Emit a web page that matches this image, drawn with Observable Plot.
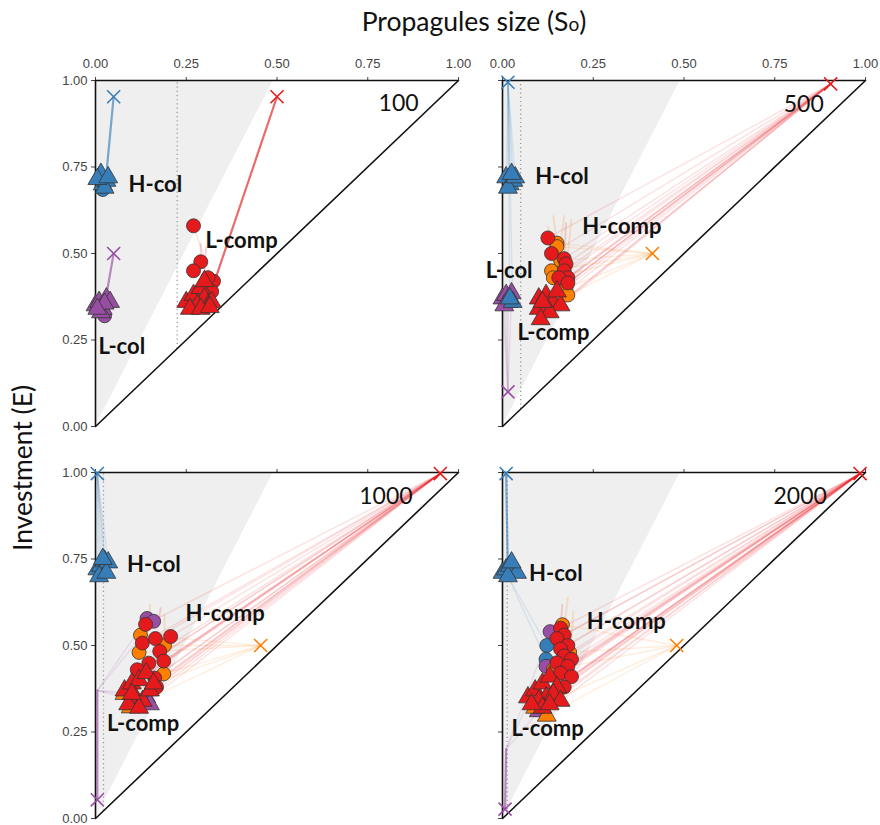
<!DOCTYPE html>
<html>
<head>
<meta charset="utf-8">
<script src="https://cdn.jsdelivr.net/npm/d3@7"></script>
<script src="https://cdn.jsdelivr.net/npm/@observablehq/plot@0.6"></script>
<style>
  body { margin: 0; background: #fff; }
  #wrap { position: relative; width: 880px; height: 825px; overflow: hidden; font-family: Lato, "Open Sans", sans-serif; }
  .panel { position: absolute; }
  #title { position: absolute; top: 5px; left: 474px; transform: translateX(-50%); font-size: 26.5px; color: #111; white-space: nowrap; }
  #ylab { position: absolute; left: 22px; top: 468px; transform: translate(-50%, -50%) rotate(-90deg); font-size: 26.5px; color: #111; white-space: nowrap; }
</style>
</head>
<body>
<div id="wrap">
  <div id="title">Propagules size (S<span style="font-size:0.72em">o</span>)</div>
  <div id="ylab">Investment (E)</div>
</div>
<script>
// ---------- data ----------
const seriesNames = ["A", "B", "C", "D"];            // blue, purple, red, orange starts
const seriesColors = ["#377eb8", "#984ea3", "#e41a1c", "#ff7f00"];
const tickValues = [0, 0.25, 0.5, 0.75, 1];
const shadeS = [0, 0.49];
const shadeE = [0, 1];
const panelNames = ["100", "500", "1000", "2000"];
const panelNameS = [0.835, 0.83, 0.80, 0.82];
const panelNameE = [0.933, 0.93, 0.93, 0.93];
const thresholds = [0.225, 0.05, 0.022, 0.013];

// starting points [series, S, E]
const starts100 = [["A", 0.05, 0.953], ["B", 0.05, 0.50], ["C", 0.50, 0.953]];
const starts500 = [["A", 0.015, 0.995], ["B", 0.015, 0.10], ["D", 0.413, 0.50], ["C", 0.904, 0.99]];
const starts1000 = [["A", 0.005, 0.997], ["B", 0.005, 0.054], ["D", 0.455, 0.50], ["C", 0.95, 0.997]];
const starts2000 = [["A", 0.01, 0.997], ["B", 0.007, 0.027], ["D", 0.48, 0.50], ["C", 0.985, 0.997]];

// intermediate waypoints [series, S, E]
const via100 = [["A", 0.03, 0.73], ["B", 0.03, 0.38], ["C", 0.325, 0.41]];
const via500 = [];
const via1000 = [["B", 0.005, 0.37]];
const via2000 = [["A", 0.015, 0.70], ["B", 0.01, 0.20]];

// overshooting trajectory spikes [series, S1, E1, S2, E2]
const spikes100 = [["C", 0.29, 0.47, 0.29, 0.53], ["C", 0.30, 0.45, 0.305, 0.52]];
const spikes500 = [["D", 0.15, 0.52, 0.14, 0.61], ["D", 0.16, 0.53, 0.17, 0.61], ["D", 0.18, 0.50, 0.19, 0.60], ["C", 0.17, 0.48, 0.175, 0.59], ["D", 0.14, 0.50, 0.125, 0.58]];
const spikes1000 = [["D", 0.15, 0.56, 0.15, 0.62], ["C", 0.17, 0.55, 0.18, 0.61], ["D", 0.19, 0.52, 0.19, 0.59]];
const spikes2000 = [["D", 0.17, 0.55, 0.18, 0.64], ["C", 0.16, 0.55, 0.165, 0.62], ["D", 0.19, 0.52, 0.195, 0.60]];

// end points: circles [series, S, E]
const circles100 = [
  ["A", 0.02, 0.685], ["B", 0.025, 0.32], ["B", 0.01, 0.34],
  ["C", 0.27, 0.58], ["C", 0.29, 0.476], ["C", 0.27, 0.45], ["C", 0.325, 0.42], ["C", 0.31, 0.43], ["C", 0.32, 0.39]
];
const triangles100 = [
  ["A", 0.01, 0.72], ["A", 0.02, 0.70], ["A", 0.03, 0.71], ["A", 0.015, 0.73], ["A", 0.025, 0.69], ["A", 0.005, 0.715], ["A", 0.035, 0.72],
  ["B", 0.0, 0.35], ["B", 0.01, 0.36], ["B", 0.02, 0.34], ["B", 0.03, 0.37], ["B", 0.04, 0.36], ["B", 0.015, 0.33], ["B", 0.025, 0.355], ["B", 0.005, 0.34],
  ["C", 0.25, 0.36], ["C", 0.27, 0.38], ["C", 0.29, 0.40], ["C", 0.30, 0.37], ["C", 0.31, 0.35], ["C", 0.28, 0.35], ["C", 0.32, 0.36], ["C", 0.26, 0.34], ["C", 0.29, 0.34], ["C", 0.30, 0.42], ["C", 0.315, 0.345]
];
const circles500 = [
  ["D", 0.15, 0.53], ["D", 0.15, 0.52], ["D", 0.135, 0.45], ["D", 0.14, 0.43], ["D", 0.175, 0.40], ["D", 0.18, 0.38], ["D", 0.16, 0.48],
  ["C", 0.125, 0.545], ["C", 0.135, 0.50], ["C", 0.17, 0.485], ["C", 0.175, 0.47], ["C", 0.17, 0.45], ["C", 0.18, 0.43], ["C", 0.155, 0.43], ["C", 0.18, 0.415]
];
const triangles500 = [
  ["A", 0.01, 0.72], ["A", 0.02, 0.70], ["A", 0.03, 0.71], ["A", 0.015, 0.69], ["A", 0.035, 0.72], ["A", 0.025, 0.73],
  ["B", 0.0, 0.37], ["B", 0.01, 0.38], ["B", 0.015, 0.36], ["B", 0.005, 0.35], ["B", 0.025, 0.385],
  ["A", 0.028, 0.36], ["A", 0.02, 0.37],
  ["C", 0.10, 0.37], ["C", 0.12, 0.38], ["C", 0.14, 0.36], ["C", 0.16, 0.35], ["C", 0.10, 0.34], ["C", 0.13, 0.33], ["C", 0.105, 0.31], ["C", 0.15, 0.39], ["C", 0.11, 0.36]
];
const circles1000 = [
  ["B", 0.142, 0.578], ["B", 0.16, 0.57],
  ["D", 0.124, 0.53], ["D", 0.188, 0.418], ["D", 0.19, 0.50], ["D", 0.12, 0.48],
  ["C", 0.138, 0.561], ["C", 0.207, 0.526], ["C", 0.129, 0.507], ["C", 0.165, 0.52], ["C", 0.177, 0.483], ["C", 0.188, 0.455],
  ["C", 0.147, 0.449], ["C", 0.115, 0.43], ["C", 0.163, 0.406], ["C", 0.168, 0.38]
];
const triangles1000 = [
  ["A", 0.005, 0.72], ["A", 0.015, 0.73], ["A", 0.025, 0.745], ["A", 0.035, 0.74], ["A", 0.01, 0.70], ["A", 0.03, 0.71], ["A", 0.02, 0.75],
  ["B", 0.09, 0.365], ["B", 0.14, 0.35], ["B", 0.15, 0.33],
  ["D", 0.097, 0.321], ["D", 0.08, 0.36],
  ["C", 0.08, 0.37], ["C", 0.10, 0.39], ["C", 0.12, 0.40], ["C", 0.14, 0.42], ["C", 0.11, 0.35], ["C", 0.13, 0.34],
  ["C", 0.09, 0.33], ["C", 0.15, 0.37], ["C", 0.16, 0.39], ["C", 0.12, 0.32], ["C", 0.10, 0.36]
];
const circles2000 = [
  ["A", 0.122, 0.50], ["A", 0.12, 0.46], ["B", 0.131, 0.54], ["B", 0.12, 0.44],
  ["D", 0.165, 0.56], ["D", 0.185, 0.48], ["D", 0.14, 0.43],
  ["C", 0.16, 0.55], ["C", 0.17, 0.53], ["C", 0.15, 0.52], ["C", 0.18, 0.50], ["C", 0.16, 0.49], ["C", 0.17, 0.47],
  ["C", 0.19, 0.46], ["C", 0.15, 0.45], ["C", 0.18, 0.44], ["C", 0.16, 0.42], ["C", 0.19, 0.41], ["C", 0.17, 0.38]
];
const triangles2000 = [
  ["A", 0.0, 0.71], ["A", 0.01, 0.72], ["A", 0.02, 0.73], ["A", 0.03, 0.72], ["A", 0.04, 0.71], ["A", 0.015, 0.70], ["A", 0.025, 0.74],
  ["B", 0.10, 0.31],
  ["D", 0.122, 0.297], ["D", 0.09, 0.32],
  ["C", 0.07, 0.35], ["C", 0.09, 0.37], ["C", 0.11, 0.39], ["C", 0.13, 0.41], ["C", 0.15, 0.38], ["C", 0.12, 0.35],
  ["C", 0.10, 0.34], ["C", 0.14, 0.36], ["C", 0.16, 0.34], ["C", 0.11, 0.32], ["C", 0.13, 0.33], ["C", 0.08, 0.33]
];

// group labels [text, S, E]
const labels100 = [["H-col", 0.091, 0.697], ["L-comp", 0.303, 0.535], ["L-col", 0.008, 0.231]];
const labels500 = [["H-col", 0.09, 0.72], ["H-comp", 0.22, 0.577], ["L-col", -0.046, 0.451], ["L-comp", 0.041, 0.269]];
const labels1000 = [["H-col", 0.087, 0.732], ["H-comp", 0.248, 0.592], ["L-comp", 0.032, 0.273]];
const labels2000 = [["H-col", 0.073, 0.707], ["H-comp", 0.232, 0.568], ["L-comp", 0.025, 0.259]];

// ---------- build ----------
const rows = arr => arr.map(([series, S, E]) => ({series, S, E}));

function makePanel(i, starts, via, spikes, circles, triangles, labels, showX, showY, frame) {
  const startRows = rows(starts);
  const viaRows = rows(via);
  const circleRows = rows(circles);
  const triRows = rows(triangles);
  const routeRows = [];
  const routeEnd = {};
  for (const s of startRows) {
    routeRows.push(s);
    routeEnd[s.series] = s;
    for (const v of viaRows.filter(v => v.series === s.series)) { routeRows.push(v); routeEnd[s.series] = v; }
  }
  const linkRows = [...circleRows, ...triRows]
    .filter(p => routeEnd[p.series])
    .map(p => ({series: p.series, x1: routeEnd[p.series].S, y1: routeEnd[p.series].E, x2: p.S, y2: p.E}));
  const spikeRows = spikes.map(([series, x1, y1, x2, y2]) => ({series, x1, y1, x2, y2}));
  const shade = shadeS.map((s, k) => ({S: s, E: shadeE[k]}));
  const f2 = d3.format(".2f");
  return Plot.plot({
    width: frame.w, height: frame.h,
    marginLeft: frame.ml, marginRight: frame.mr, marginTop: 40, marginBottom: frame.mb,
    style: {fontFamily: "'Liberation Sans', Arial, sans-serif", fontSize: "13px", color: "#444", background: "transparent", overflow: "visible"},
    x: {domain: [0, 1], axis: "top", ticks: tickValues, tickFormat: showX ? f2 : () => "", tickSize: 4, tickPadding: 9, label: null},
    y: {domain: [0, 1], axis: "left", ticks: tickValues, tickFormat: showY ? f2 : () => "", tickSize: 4, tickPadding: 4, label: null},
    color: {domain: seriesNames, range: seriesColors},
    marks: [
      Plot.areaX(shade, {y: "E", x1: () => 0, x2: "S", fill: "#efefef"}),
      Plot.ruleX([thresholds[i]], {x: d => d, y1: d => d, y2: () => 1, stroke: "#999", strokeDasharray: "1.2,3", strokeWidth: 1.3}),
      Plot.line([[0, 0], [1, 1]], {stroke: "#111", strokeWidth: 1.6}),
      Plot.ruleY([1], {y: d => d, x1: () => 0, x2: () => 1, stroke: "#111", strokeWidth: 1.6}),
      Plot.ruleX([0], {x: d => d, y1: () => 0, y2: () => 1, stroke: "#111", strokeWidth: 1.6}),
      Plot.line(routeRows, {x: "S", y: "E", z: "series", stroke: "series", strokeOpacity: 0.65, strokeWidth: 2.2}),
      Plot.link(linkRows, {x1: "x1", y1: "y1", x2: "x2", y2: "y2", stroke: "series", strokeOpacity: 0.13, strokeWidth: 1.4}),
      Plot.link(spikeRows, {x1: "x1", y1: "y1", x2: "x2", y2: "y2", stroke: "series", strokeOpacity: 0.18, strokeWidth: 2}),
      Plot.dot(circleRows, {x: "S", y: "E", fill: "series", stroke: "#333", strokeWidth: 0.8, r: 7, symbol: "circle"}),
      Plot.dot(triRows, {x: "S", y: "E", fill: "series", stroke: "#333", strokeWidth: 0.8, r: 7, symbol: "triangle"}),
      Plot.dot(startRows, {x: "S", y: "E", stroke: "series", fill: "none", strokeWidth: 1.6, r: 6, symbol: "times"}),
      Plot.text(labels, {x: d => d[1], y: d => d[2], text: d => d[0], textAnchor: "start", fontSize: 22, fontWeight: "bold", fontFamily: "Lato, 'Open Sans', sans-serif", fill: "#111"}),
      Plot.text([panelNames[i]], {x: () => panelNameS[i], y: () => panelNameE[i], text: d => d, fontSize: 23, fontFamily: "Lato, 'Open Sans', sans-serif", fill: "#111"})
    ]
  });
}

const frames = [
  {left: 0, top: 40, w: 470, h: 396, ml: 95, mr: 12, mb: 10},
  {left: 440, top: 40, w: 440, h: 396, ml: 62, mr: 15, mb: 10},
  {left: 0, top: 432, w: 470, h: 393, ml: 95, mr: 12, mb: 7},
  {left: 440, top: 432, w: 440, h: 393, ml: 62, mr: 15, mb: 7}
];
const panelData = [
  [starts100, via100, spikes100, circles100, triangles100, labels100],
  [starts500, via500, spikes500, circles500, triangles500, labels500],
  [starts1000, via1000, spikes1000, circles1000, triangles1000, labels1000],
  [starts2000, via2000, spikes2000, circles2000, triangles2000, labels2000]
];
const wrap = document.getElementById("wrap");
panelData.forEach((pd, i) => {
  const fr = frames[i];
  const svg = makePanel(i, ...pd, i < 2, i % 2 === 0, fr);
  const div = document.createElement("div");
  div.className = "panel";
  div.style.left = fr.left + "px";
  div.style.top = fr.top + "px";
  div.appendChild(svg);
  wrap.appendChild(div);
});
</script>
</body>
</html>
